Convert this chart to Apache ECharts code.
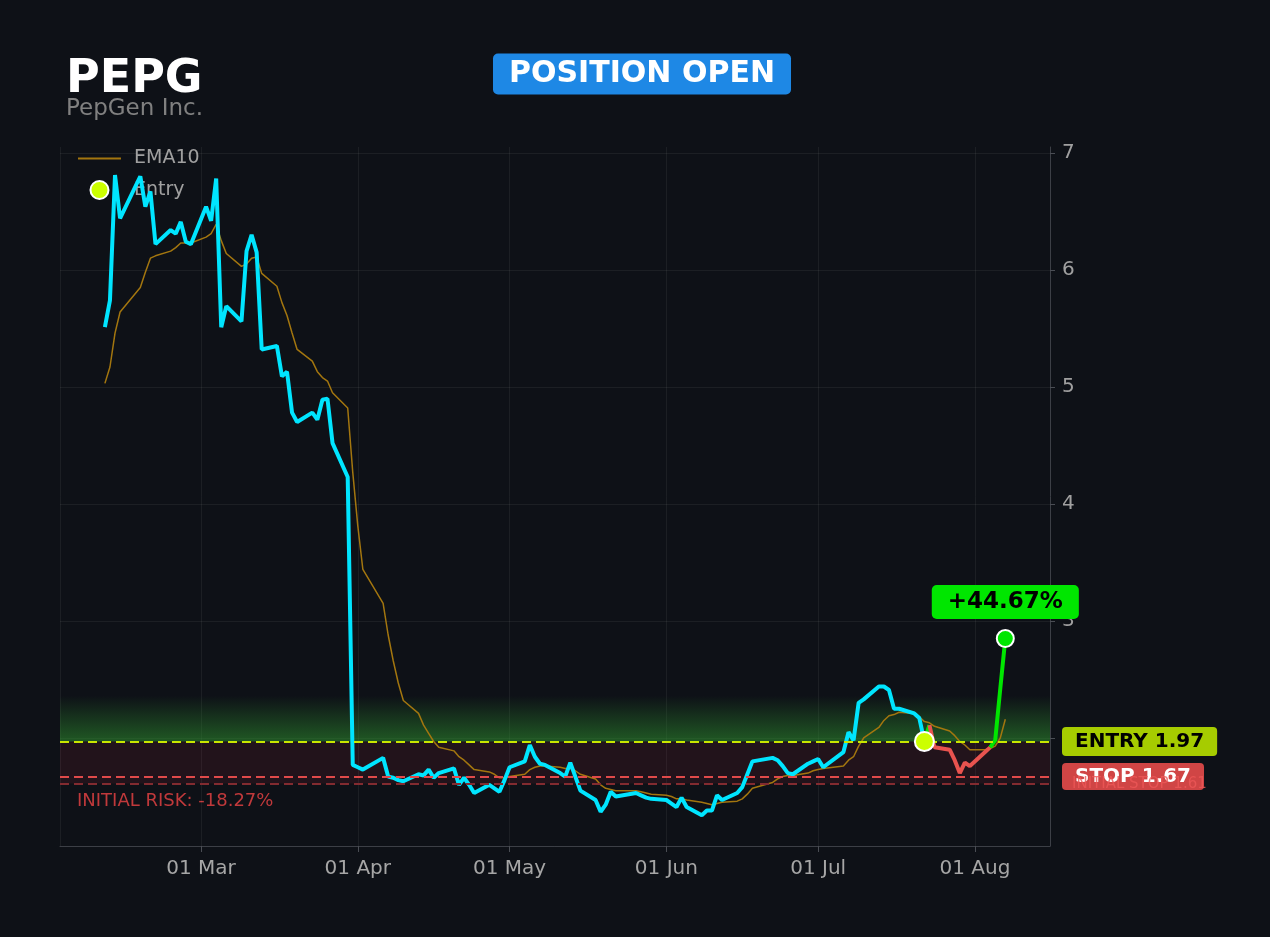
<!DOCTYPE html>
<html>
<head>
<meta charset="utf-8">
<title>PEPG</title>
<script src="https://cdn.jsdelivr.net/npm/echarts@6/dist/echarts.min.js"></script>
<style>
html, body { margin: 0; padding: 0; background: #0e1117; }
#chart { width: 1270px; height: 937px; }
</style>
</head>
<body>
<div id="chart"></div>
<script>
// trading days, month by month
var tradingDays = [
    ['2026-02', [10, 11, 12, 13, 17, 18, 19, 20, 23, 24, 25, 26, 27]],
    ['2026-03', [2, 3, 4, 5, 6, 9, 10, 11, 12, 13, 16, 17, 18, 19, 20, 23, 24, 25, 26, 27, 30, 31]],
    ['2026-04', [1, 2, 6, 7, 8, 9, 10, 13, 14, 15, 16, 17, 20, 21, 22, 23, 24, 27, 28, 29, 30]],
    ['2026-05', [1, 4, 5, 6, 7, 8, 11, 12, 13, 14, 15, 18, 19, 20, 21, 22, 26, 27, 28, 29]],
    ['2026-06', [1, 2, 3, 4, 5, 8, 9, 10, 11, 12, 15, 16, 17, 18, 22, 23, 24, 25, 26, 29, 30]],
    ['2026-07', [1, 2, 6, 7, 8, 9, 10, 13, 14, 15, 16, 17, 20, 21, 22, 23, 24, 27, 28, 29, 30, 31]],
    ['2026-08', [3, 4, 5, 6, 7]]
];

// closing prices
var closes = [
    5.51, 5.74, 6.81, 6.44, 6.80, 6.54, 6.67, 6.22, 6.34, 6.31, 6.41, 6.24, 6.22,
    6.54, 6.42, 6.78, 5.51, 5.69, 5.56, 6.16, 6.30, 6.15, 5.32, 5.35, 5.09, 5.13, 4.78, 4.70, 4.78, 4.72, 4.89, 4.90, 4.52, 4.23, 1.77,
    1.75, 1.73, 1.83, 1.67, 1.66, 1.64, 1.63, 1.69, 1.68, 1.73, 1.66, 1.70, 1.74, 1.60, 1.66, 1.60, 1.53, 1.60, 1.57, 1.54, 1.64,
    1.75, 1.80, 1.94, 1.84, 1.78, 1.77, 1.70, 1.67, 1.79, 1.67, 1.55, 1.47, 1.37, 1.43, 1.54, 1.50, 1.53, 1.51, 1.49, 1.48,
    1.47, 1.44, 1.41, 1.49, 1.41, 1.34, 1.38, 1.38, 1.51, 1.47, 1.53, 1.58, 1.69, 1.80, 1.83, 1.81, 1.76, 1.70, 1.69, 1.78, 1.80,
    1.82, 1.75, 1.88, 2.05, 1.98, 2.30, 2.33, 2.44, 2.44, 2.41, 2.25, 2.25, 2.21, 2.17, 1.97, 2.11, 1.92, 1.90, 1.81, 1.70, 1.79, 1.76,
    1.88, 1.92, 1.98, 2.42, 2.85
];

// EMA10
var ema10 = [
    5.03, 5.17, 5.46, 5.64, 5.85, 5.98, 6.10, 6.12, 6.16, 6.19, 6.23, 6.23, 6.23,
    6.28, 6.31, 6.39, 6.25, 6.14, 6.03, 6.05, 6.10, 6.11, 5.97, 5.86, 5.72, 5.61, 5.46, 5.32, 5.22, 5.13, 5.08, 5.05, 4.95, 4.82, 4.27,
    3.81, 3.44, 3.15, 2.88, 2.66, 2.47, 2.32, 2.21, 2.11, 2.04, 1.97, 1.92, 1.89, 1.84, 1.81, 1.77, 1.73, 1.71, 1.69, 1.66, 1.66,
    1.67, 1.69, 1.73, 1.75, 1.76, 1.76, 1.75, 1.74, 1.74, 1.72, 1.69, 1.65, 1.60, 1.57, 1.56, 1.55, 1.55, 1.54, 1.53, 1.52,
    1.51, 1.50, 1.48, 1.48, 1.47, 1.45, 1.44, 1.43, 1.44, 1.45, 1.46, 1.48, 1.52, 1.57, 1.62, 1.65, 1.67, 1.68, 1.68, 1.70, 1.72,
    1.73, 1.74, 1.76, 1.81, 1.84, 1.93, 2.00, 2.09, 2.15, 2.19, 2.20, 2.22, 2.21, 2.18, 2.14, 2.13, 2.10, 2.06, 2.02, 1.97, 1.94, 1.90,
    1.90, 1.91, 1.93, 2.00, 2.16
];

// price axis ticks
var yTicks = [2, 3, 4, 5, 6, 7];

// trade levels
var entryDate = '2026-07-22';
var entryPrice = 1.97;
var stopPrice = 1.67;
var initialStop = 1.61;
var targetPrice = 2.36;

var monthNames = ['Jan', 'Feb', 'Mar', 'Apr', 'May', 'Jun', 'Jul', 'Aug', 'Sep', 'Oct', 'Nov', 'Dec'];
var FONT = '"DejaVu Sans", sans-serif';

//build dates
var dates = [];
tradingDays.forEach(function (m) {
    m[1].forEach(function (d) {
        dates.push(m[0] + '-' + (d < 10 ? '0' + d : d));
    });
});

var entryIdx = dates.indexOf(entryDate);
var lastIdx = dates.length - 1;

var priceData = [];
var emaData = [];
for (var i = 0; i < dates.length; i++) {
    emaData.push([dates[i], ema10[i]]);
    if (i <= entryIdx) {
        priceData.push([dates[i], closes[i]]);
    }
}

//after entry: green when the close is at/above entry, red below
var runs = [];
var cur = null;
for (var i = entryIdx + 1; i < dates.length; i++) {
    var up = closes[i] >= entryPrice;
    if (!cur || cur.up !== up) {
        cur = { up: up, data: [[dates[i - 1], closes[i - 1]]] };
        runs.push(cur);
    }
    cur.data.push([dates[i], closes[i]]);
}

var pct = (closes[lastIdx] - entryPrice) / entryPrice * 100;
var risk = (initialStop - entryPrice) / entryPrice * 100;

var series = [];

series.push({
    name: 'EMA10',
    type: 'line',
    data: emaData,
    symbol: 'none',
    z: 2,
    lineStyle: { color: '#a3760f', width: 1.5 },
    itemStyle: { color: '#a3760f' },
    markArea: {
        silent: true,
        data: [
            [{
                yAxis: entryPrice,
                itemStyle: {
                    color: new echarts.graphic.LinearGradient(0, 0, 0, 1, [
                        { offset: 0, color: 'rgba(45,140,45,0)' },
                        { offset: 1, color: 'rgba(45,140,45,0.58)' }
                    ])
                }
            }, { yAxis: targetPrice }],
            [{
                yAxis: initialStop,
                itemStyle: { color: 'rgba(200,40,60,0.11)' }
            }, { yAxis: entryPrice }]
        ]
    },
    markLine: {
        silent: true,
        symbol: ['none', 'none'],
        data: [
            {
                yAxis: stopPrice,
                lineStyle: { color: '#e04a4a', width: 2, type: [9, 5] },
                label: {
                    position: 'end',
                    distance: 12,
                    formatter: 'STOP ' + stopPrice.toFixed(2),
                    backgroundColor: '#d04545',
                    color: '#fff',
                    fontWeight: 'bold',
                    fontSize: 20,
                    fontFamily: FONT,
                    padding: [4, 13, 3, 13],
                    borderRadius: 4
                }
            },
            {
                yAxis: entryPrice,
                lineStyle: { color: '#c8e600', width: 2, type: [9, 5] },
                label: {
                    position: 'end',
                    distance: 12,
                    formatter: 'ENTRY ' + entryPrice.toFixed(2),
                    backgroundColor: '#a6cc00',
                    color: '#000',
                    fontWeight: 'bold',
                    fontSize: 20,
                    fontFamily: FONT,
                    padding: [5, 13, 4, 13],
                    borderRadius: 4
                }
            }
        ]
    }
});

series.push({
    name: 'Price',
    type: 'line',
    data: priceData,
    symbol: 'none',
    z: 3,
    lineStyle: { color: '#00e5ff', width: 4 }
});

runs.forEach(function (r) {
    series.push({
        name: 'Trade',
        type: 'line',
        data: r.data,
        symbol: 'none',
        z: 4,
        lineStyle: { color: r.up ? '#00e600' : '#e8534f', width: 4 }
    });
});

series.push({
    name: 'Entry',
    type: 'scatter',
    data: [[entryDate, entryPrice]],
    symbol: 'circle',
    symbolSize: 19,
    z: 6,
    itemStyle: { color: '#ccff00', borderColor: '#ffffff', borderWidth: 2, opacity: 1 }
});

series.push({
    name: 'Last',
    type: 'scatter',
    data: [[dates[lastIdx], closes[lastIdx]]],
    symbol: 'circle',
    symbolSize: 17,
    z: 6,
    itemStyle: { color: '#00e600', borderColor: '#ffffff', borderWidth: 2, opacity: 1 },
    label: {
        show: true,
        position: 'top',
        distance: 10,
        formatter: '+' + pct.toFixed(2) + '%',
        backgroundColor: '#00e600',
        color: '#000',
        fontWeight: 'bold',
        fontSize: 23,
        fontFamily: FONT,
        padding: [6, 16, 5, 16],
        borderRadius: 5
    },
    //initial stop sits on top so its label shows over the STOP box
    markLine: {
        silent: true,
        symbol: ['none', 'none'],
        data: [{
            yAxis: initialStop,
            lineStyle: { color: '#832b30', width: 2, type: [9, 5] },
            label: {
                position: 'end',
                distance: 22,
                formatter: 'INITIAL STOP ' + initialStop.toFixed(2),
                color: 'rgba(238,88,88,0.8)',
                fontSize: 15,
                fontFamily: FONT
            }
        }]
    }
});

var myChart = echarts.init(document.getElementById('chart'));

var option = {
    backgroundColor: '#0e1117',
    animation: false,
    textStyle: { fontFamily: FONT },
    grid: { left: 60, right: 220, top: 147, bottom: 91 },
    legend: {
        data: [
            { name: 'EMA10', icon: 'path://M0,0L0.01,0L0.01,0.01ZM0,8L43,8L43,10L0,10ZM0,18L0.01,18L0.01,18.01Z' },
            { name: 'Entry' }
        ],
        orient: 'vertical',
        left: 73,
        top: 144,
        z: 1,
        itemWidth: 43,
        itemHeight: 18,
        itemGap: 12,
        textStyle: { color: '#a0a0a0', fontSize: 19, fontFamily: FONT, padding: [0, 0, 0, 8] }
    },
    xAxis: {
        type: 'time',
        min: new Date(2026, 1, 1, 3).getTime(),
        max: new Date(2026, 7, 15, 20).getTime(),
        axisLine: { lineStyle: { color: '#3c3f46' } },
        axisTick: { show: true, length: 6, lineStyle: { color: '#4a4d54' } },
        splitLine: { show: true, lineStyle: { color: 'rgba(255,255,255,0.06)' } },
        axisLabel: {
            color: '#a6a6a6',
            fontSize: 20,
            margin: 13,
            formatter: function (v) {
                var d = new Date(v);
                var day = d.getDate();
                return (day < 10 ? '0' + day : day) + ' ' + monthNames[d.getMonth()];
            }
        }
    },
    yAxis: {
        type: 'value',
        position: 'right',
        min: 1.077,
        max: 7.05,
        splitNumber: 6,
        axisLine: { show: true, lineStyle: { color: '#3c3f46' } },
        axisTick: { show: true, length: 5, customValues: yTicks, lineStyle: { color: '#4a4d54' } },
        splitLine: { lineStyle: { color: 'rgba(255,255,255,0.06)' } },
        axisLabel: {
            color: '#a0a0a0',
            fontSize: 20,
            margin: 12,
            customValues: yTicks,
            formatter: function (v) {
                return String(Math.round(v));
            }
        }
    },
    graphic: [
        {
            type: 'text',
            x: 66, y: 80,
            style: {
                text: 'PEPG',
                fill: '#ffffff',
                font: 'bold 46px ' + FONT,
                textAlign: 'left',
                textVerticalAlign: 'middle'
            }
        },
        {
            type: 'text',
            x: 66, y: 109,
            style: {
                text: 'PepGen Inc.',
                fill: '#808080',
                font: '23px ' + FONT,
                textAlign: 'left',
                textVerticalAlign: 'middle'
            }
        },
        {
            type: 'text',
            x: 642, y: 74,
            style: {
                text: 'POSITION OPEN',
                fill: '#ffffff',
                font: 'bold 30px ' + FONT,
                textAlign: 'center',
                textVerticalAlign: 'middle',
                backgroundColor: '#1e88e5',
                padding: [6, 16, 5, 16],
                borderRadius: 5
            }
        },
        {
            type: 'text',
            x: 77, y: 801,
            style: {
                text: 'INITIAL RISK: ' + risk.toFixed(2) + '%',
                fill: '#c0393b',
                font: '18px ' + FONT,
                textAlign: 'left',
                textVerticalAlign: 'middle'
            }
        }
    ],
    series: series
};

myChart.setOption(option);
</script>
</body>
</html>
